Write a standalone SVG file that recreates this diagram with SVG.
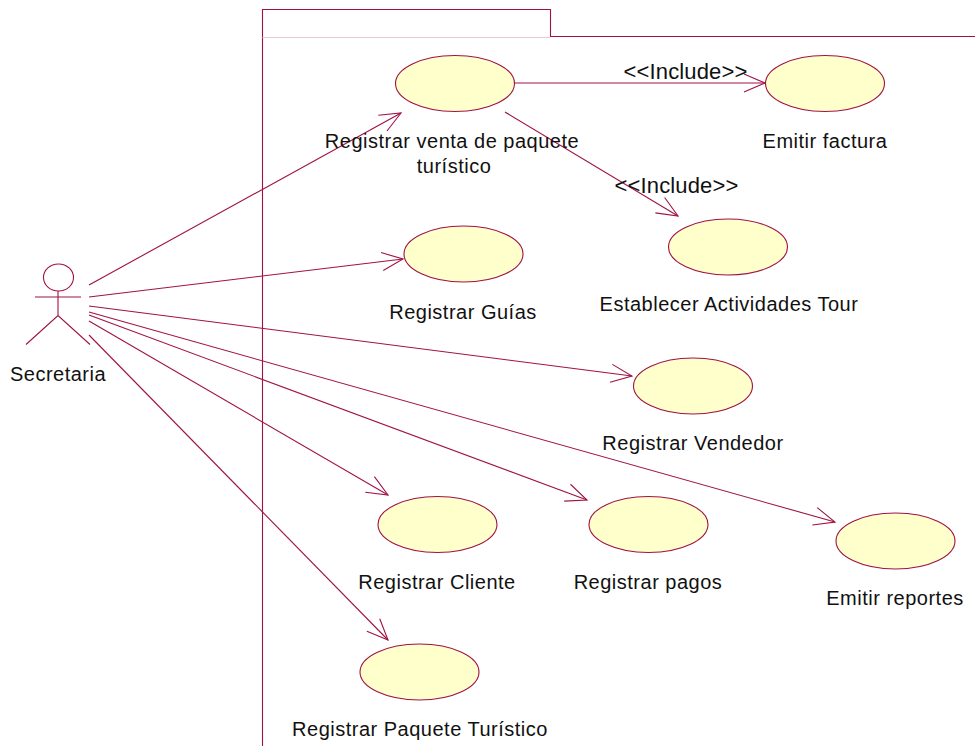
<svg xmlns="http://www.w3.org/2000/svg" width="975" height="746" viewBox="0 0 975 746">
<defs>
<marker id="open" markerUnits="userSpaceOnUse" markerWidth="26" markerHeight="20" refX="21" refY="9" orient="auto" overflow="visible"><path d="M0 0L21 9L0 18" fill="none" stroke="#a01246" stroke-width="1.1"/></marker>
</defs>
<style>
text{font-family:"Liberation Sans",Arial,sans-serif;font-size:20px;letter-spacing:.5px;fill:#111;text-anchor:middle}
text.st{font-size:22px;letter-spacing:.15px}
.uc{fill:#ffffcb;stroke:#a01246;stroke-width:1.1}
.ln{fill:none;stroke:#a01246;stroke-width:1.1}
.as{fill:none;stroke:#a01246;stroke-width:1.1;marker-end:url(#open)}
</style>
<g id="boundary">
<path class="ln" d="M262.500 746V9.500H550.500V36.500H975"/>
<path d="M262.500 37.500H550" fill="none" stroke="#e8c8d4" stroke-width="1"/>
</g>
<g id="connectors">
<path class="as" d="M89 285L401 113"/>
<path class="as" d="M89 297L403 259"/>
<path class="as" d="M89 306L632 376"/>
<path class="as" d="M89 312L835 522"/>
<path class="as" d="M89 315L587 500"/>
<path class="as" d="M89 321L388 495"/>
<path class="as" d="M89 335L388 640"/>
<path class="as" d="M514 83H765"/>
<path class="as" d="M505 112L678 216"/>
</g>
<g id="actor"><ellipse class="ln" cx="58.500" cy="277.500" rx="15" ry="13.500"/><path class="ln" d="M35 297H81M58 291V315.500M26 344.500L58 315.500L90 344.500"/><text x="58" y="381">Secretaria</text></g>
<g id="uc1"><ellipse class="uc" cx="455" cy="83.500" rx="59.500" ry="28"/><text x="452" y="148">Registrar venta de paquete</text><text x="454" y="173">turístico</text></g>
<g id="uc2"><ellipse class="uc" cx="825" cy="83.500" rx="59.500" ry="28"/><text x="825" y="148">Emitir factura</text></g>
<g id="uc3"><ellipse class="uc" cx="728" cy="247" rx="59.500" ry="28"/><text x="729" y="311">Establecer Actividades Tour</text></g>
<g id="uc4"><ellipse class="uc" cx="463.500" cy="254" rx="59.500" ry="28"/><text x="463" y="319">Registrar Guías</text></g>
<g id="uc5"><ellipse class="uc" cx="693" cy="386" rx="59.500" ry="28"/><text x="693" y="450">Registrar Vendedor</text></g>
<g id="uc6"><ellipse class="uc" cx="437.500" cy="524.500" rx="59.500" ry="28"/><text x="437" y="589">Registrar Cliente</text></g>
<g id="uc7"><ellipse class="uc" cx="648.500" cy="524.500" rx="59.500" ry="28"/><text x="648" y="589">Registrar pagos</text></g>
<g id="uc8"><ellipse class="uc" cx="895.500" cy="541" rx="59.500" ry="28"/><text x="895" y="605">Emitir reportes</text></g>
<g id="uc9"><ellipse class="uc" cx="419.500" cy="672" rx="59.500" ry="28"/><text x="420" y="736">Registrar Paquete Turístico</text></g>
<g id="labels"><text class="st" x="685.500" y="79">&lt;&lt;Include&gt;&gt;</text><text class="st" x="676.500" y="193">&lt;&lt;Include&gt;&gt;</text></g>
</svg>
